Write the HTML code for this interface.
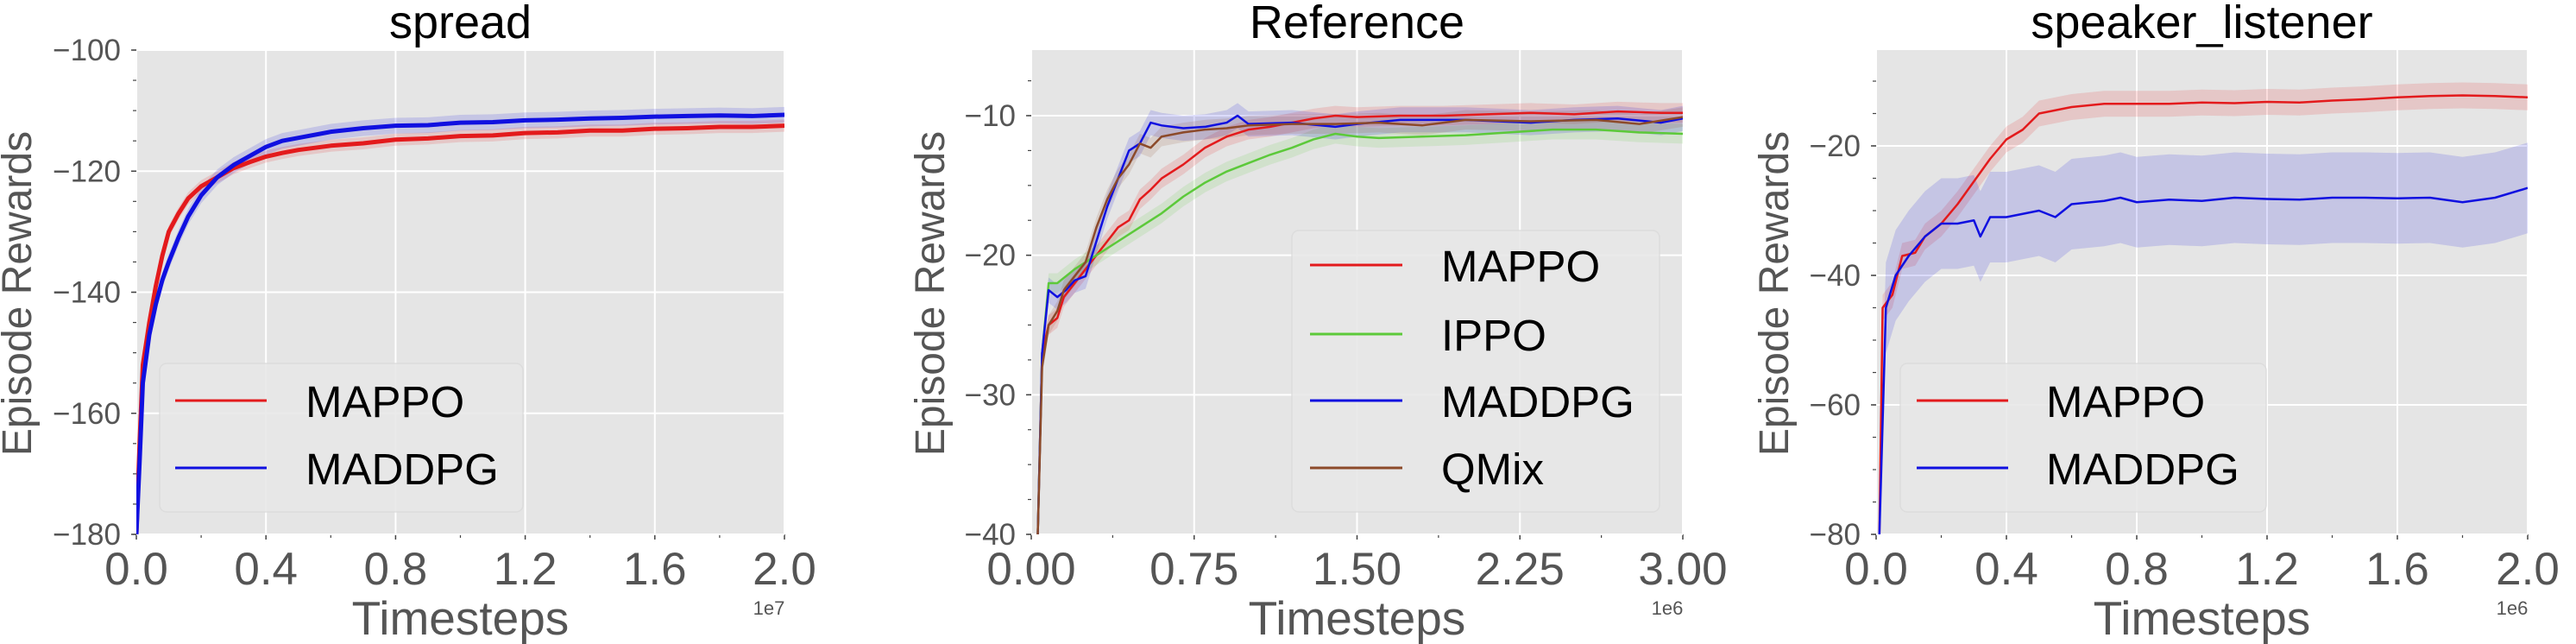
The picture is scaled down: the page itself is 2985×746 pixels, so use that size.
<!DOCTYPE html>
<html><head><meta charset="utf-8"><style>
html,body{margin:0;padding:0;background:#fff;}
svg{display:block;font-family:"Liberation Sans",sans-serif;}
</style></head><body>
<svg id="fig" width="2985" height="746" viewBox="0 0 2985 746" xmlns="http://www.w3.org/2000/svg"></svg>
<script>
// ---- spread data (x in 1e7) ----
const spreadX = [0,0.01,0.02,0.04,0.06,0.08,0.1,0.13,0.16,0.2,0.25,0.3,0.35,0.4,0.45,0.5,0.6,0.7,0.8,0.9,1.0,1.1,1.2,1.3,1.4,1.5,1.6,1.7,1.8,1.9,2.0];
const spreadMappo = [-180,-165,-152,-145,-139,-134,-130,-127,-124.5,-122.5,-121,-119.5,-118.5,-117.6,-117,-116.5,-115.8,-115.4,-114.8,-114.6,-114.2,-114.1,-113.7,-113.6,-113.3,-113.3,-113,-112.9,-112.7,-112.7,-112.5];
const spreadMaddpg = [-180,-168,-155,-147,-142,-138,-135,-131,-127.5,-124,-121,-119,-117.5,-116,-115,-114.5,-113.5,-112.9,-112.5,-112.4,-112,-111.9,-111.6,-111.5,-111.3,-111.2,-111,-110.9,-110.8,-110.9,-110.7];
const spreadYTicks = [-180,-160,-140,-120,-100];
const spreadXTicks = ["0.0","0.4","0.8","1.2","1.6","2.0"];
// ---- reference data (x in 1e6) ----
const refMappoX = [0.03,0.05,0.08,0.12,0.15,0.2,0.25,0.3,0.35,0.4,0.45,0.5,0.55,0.6,0.7,0.8,0.9,1.0,1.1,1.2,1.3,1.4,1.5,1.7,1.9,2.1,2.3,2.5,2.7,2.9,3.0];
const refMappo = [-40,-27,-25,-24.5,-23,-22,-21,-20,-19,-18,-17.5,-16,-15.3,-14.5,-13.5,-12.3,-11.5,-11,-10.8,-10.5,-10.2,-10,-10.1,-10,-10,-9.9,-9.8,-9.9,-9.7,-9.8,-9.8];
const refIppoX = [0.03,0.05,0.08,0.12,0.2,0.3,0.4,0.5,0.6,0.7,0.8,0.9,1.0,1.1,1.2,1.3,1.4,1.5,1.6,1.8,2.0,2.2,2.4,2.6,2.8,3.0];
const refIppo = [-40,-27,-22,-22,-21,-20,-19,-18,-17,-15.8,-14.8,-14,-13.4,-12.8,-12.3,-11.7,-11.3,-11.5,-11.6,-11.5,-11.4,-11.2,-11,-11,-11.2,-11.3];
const refMaddpgX = [0.03,0.05,0.08,0.12,0.16,0.2,0.25,0.3,0.35,0.4,0.45,0.5,0.55,0.6,0.7,0.8,0.9,0.95,1.0,1.2,1.4,1.5,1.7,2.0,2.3,2.5,2.7,2.9,3.0];
const refMaddpg = [-40,-27,-22.5,-23,-22.5,-21.8,-21.5,-19,-16.5,-14.5,-12.5,-12,-10.5,-10.7,-10.9,-10.8,-10.5,-10,-10.6,-10.5,-10.8,-10.6,-10.3,-10.3,-10.5,-10.3,-10.2,-10.5,-10.2];
const refQmixX = [0.03,0.05,0.08,0.12,0.15,0.2,0.25,0.3,0.35,0.4,0.45,0.5,0.55,0.6,0.7,0.8,0.9,1.0,1.2,1.4,1.6,1.8,2.0,2.3,2.6,2.8,3.0];
const refQmix = [-40,-28,-25,-24,-22.5,-21.5,-20.5,-18,-16,-14.5,-13.5,-12,-12.3,-11.5,-11.2,-11,-10.9,-10.7,-10.6,-10.6,-10.5,-10.7,-10.3,-10.4,-10.3,-10.6,-10.1];
const refYTicks = [-40,-30,-20,-10];
const refXTicks = ["0.00","0.75","1.50","2.25","3.00"];
// ---- speaker_listener data (x in 1e6) ----
const slMappoX = [0.01,0.02,0.05,0.08,0.12,0.15,0.2,0.25,0.3,0.35,0.4,0.45,0.5,0.55,0.6,0.7,0.8,0.9,1.0,1.1,1.2,1.3,1.4,1.5,1.6,1.7,1.8,1.9,2.0];
const slMappo = [-80,-45,-43,-37,-36.5,-34,-32,-29,-25.5,-22,-19,-17.5,-15,-14.5,-14,-13.5,-13.5,-13.5,-13.3,-13.4,-13.2,-13.3,-13,-12.8,-12.5,-12.3,-12.2,-12.3,-12.5];
const slMaddpgX = [0.01,0.03,0.06,0.1,0.15,0.2,0.25,0.3,0.32,0.35,0.4,0.45,0.5,0.55,0.6,0.7,0.75,0.8,0.9,1.0,1.1,1.2,1.3,1.4,1.5,1.6,1.7,1.8,1.9,2.0];
const slMaddpg = [-80,-45,-40,-37,-34,-32,-32,-31.5,-34,-31,-31,-30.5,-30,-31,-29,-28.5,-28,-28.7,-28.3,-28.5,-28,-28.2,-28.3,-28,-28,-28.1,-28,-28.7,-28,-26.5];
const slYTicks = [-80,-60,-40,-20];
const slXTicks = ["0.0","0.4","0.8","1.2","1.6","2.0"];

const NS="http://www.w3.org/2000/svg";
const svg=document.getElementById('fig');
function mk(tag,attrs,parent){const e=document.createElementNS(NS,tag);for(const k in attrs)e.setAttribute(k,attrs[k]);(parent||svg).appendChild(e);return e;}

function panel(o){
  const g=mk('g',{});
  
  
  const sx=v=>o.x0+(v-o.xmin)/(o.xmax-o.xmin)*(o.x1-o.x0);
  const sy=v=>o.y1-(v-o.ymin)/(o.ymax-o.ymin)*(o.y1-o.y0);
  const bg=mk('rect',{x:o.x0,y:o.y0,width:o.x1-o.x0,height:o.y1-o.y0,fill:'#e5e5e5'},g);
  
  
  const n=o.xTicks.length;
  o.xTicks.forEach((t,i)=>{
    const v=o.xmin+i*(o.xmax-o.xmin)/(n-1);const X=sx(v);
    mk('line',{x1:X,x2:X,y1:o.y0,y2:o.y1,stroke:'#fff','stroke-width':2},g);
    mk('line',{x1:X,x2:X,y1:o.y1,y2:o.y1+6,stroke:'#444','stroke-width':1.5},g);
    if(i<n-1){const Xm=sx(v+(o.xmax-o.xmin)/(n-1)/2);mk('line',{x1:Xm,x2:Xm,y1:o.y1,y2:o.y1+4,stroke:'#444','stroke-width':1.2},g);}
    const tx=mk('text',{x:X,y:677,'font-size':53,fill:'#555','text-anchor':'middle'},g);
    tx.textContent=t;
    
    
  });
  const step=o.yTicks[1]-o.yTicks[0];
  for(let v=o.ymin;v<=o.ymax+1e-9;v+=step/4){const Y=sy(v);mk('line',{x1:o.x0-4,x2:o.x0,y1:Y,y2:Y,stroke:'#444','stroke-width':1.2},g);}
  o.yTicks.forEach(t=>{
    const Y=sy(t);
    mk('line',{x1:o.x0,x2:o.x1,y1:Y,y2:Y,stroke:'#fff','stroke-width':2},g);
    mk('line',{x1:o.x0-6,x2:o.x0,y1:Y,y2:Y,stroke:'#444','stroke-width':1.5},g);
    const tx=mk('text',{x:o.x0-18,y:Y+12,'font-size':35,fill:'#555','text-anchor':'end'},g);
    tx.textContent='\u2212'+Math.abs(t);
    
    
  });
  const clip=mk('clipPath',{id:'c'+o.name},g);mk('rect',{x:o.x0,y:o.y0,width:o.x1-o.x0,height:o.y1-o.y0},clip);
  const sg=mk('g',{'clip-path':'url(#c'+o.name+')'},g);
  o.series.forEach(s=>{
    const up=s.xs.map((x,i)=>sx(x)+','+sy(s.ys[i]+s.band)).join(' ');
    const dn=s.xs.map((x,i)=>sx(x)+','+sy(s.ys[i]-s.band)).reverse().join(' ');
    const band=mk('polygon',{points:up+' '+dn,fill:s.color,opacity:0.15},sg);
    
    
  });
  o.series.forEach(s=>{
    const pl=mk('polyline',{points:s.xs.map((x,i)=>sx(x)+','+sy(s.ys[i])).join(' '),fill:'none',stroke:s.color,'stroke-width':o.lw,'stroke-linejoin':'round'},sg);
    
    
  });
  const tt=mk('text',{x:(o.x0+o.x1)/2,y:44,'font-size':54,fill:'#000','text-anchor':'middle'},g);
  tt.textContent=o.title;
  
  
  const xl=mk('text',{x:(o.x0+o.x1)/2,y:735,'font-size':55,fill:'#555','text-anchor':'middle'},g);
  xl.textContent='Timesteps';
  
  
  const ex=mk('text',{x:o.x1-18,y:712,'font-size':22,fill:'#555','text-anchor':'middle'},g);
  ex.textContent=o.exp;
  
  
  const yl=mk('text',{x:0,y:0,'font-size':48,fill:'#555','text-anchor':'middle',transform:'translate('+(o.ylx+17)+',340) rotate(-90)'},g);
  yl.textContent='Episode Rewards';
  
  
  const lg=mk('g',{},g);
  
  
  mk('rect',{x:o.lg[0],y:o.lg[1],width:o.lg[2],height:o.lg[3],rx:8,fill:'#e8e8e8',stroke:'#dcdcdc','stroke-width':1.5,opacity:0.9},lg);
  o.series.forEach((s,i)=>{
    const Y=o.lgY[i];
    const e=mk('g',{},lg);
    
    
    mk('line',{x1:o.lgx[0],x2:o.lgx[1],y1:Y,y2:Y,stroke:s.color,'stroke-width':3},e);
    const t=mk('text',{x:o.lgx[2],y:Y+19,'font-size':51,fill:'#000'},e);
    t.textContent=s.label;
  });
}
const RED='#e31a1c',BLUE='#1010e0',GREEN='#5cc93a',BROWN='#8c4a2a';
panel({name:'spread',title:'spread',x0:158,x1:909,y0:58,y1:619,xmin:0,xmax:2,ymin:-180,ymax:-100,
  yTicks:spreadYTicks,xTicks:spreadXTicks,exp:'1e7',ylx:19,lw:5,
  series:[{label:'MAPPO',xs:spreadX,ys:spreadMappo,color:RED,band:1},{label:'MADDPG',xs:spreadX,ys:spreadMaddpg,color:BLUE,band:1.3}],
  lg:[185,421,421,172],lgY:[464,542],lgx:[203,309,354]});
panel({name:'reference',title:'Reference',x0:1195,x1:1950,y0:58,y1:619,xmin:0,xmax:3,ymin:-40,ymax:-5.3,
  yTicks:refYTicks,xTicks:refXTicks,exp:'1e6',ylx:1077,lw:2.5,
  series:[{label:'MAPPO',xs:refMappoX,ys:refMappo,color:RED,band:0.7},{label:'IPPO',xs:refIppoX,ys:refIppo,color:GREEN,band:0.7},{label:'MADDPG',xs:refMaddpgX,ys:refMaddpg,color:BLUE,band:0.9},{label:'QMix',xs:refQmixX,ys:refQmix,color:BROWN,band:0.7}],
  lg:[1497,267,426,326],lgY:[307,387,464,542],lgx:[1518,1625,1670]});
panel({name:'speaker-listener',title:'speaker_listener',x0:2174,x1:2929,y0:58,y1:619,xmin:0,xmax:2,ymin:-80,ymax:-5.2,
  yTicks:slYTicks,xTicks:slXTicks,exp:'1e6',ylx:2055,lw:2.5,
  series:[{label:'MAPPO',xs:slMappoX,ys:slMappo,color:RED,band:2},{label:'MADDPG',xs:slMaddpgX,ys:slMaddpg,color:BLUE,band:7}],
  lg:[2202,421,424,172],lgY:[464,542],lgx:[2221,2327,2371]});
</script>
</body></html>
